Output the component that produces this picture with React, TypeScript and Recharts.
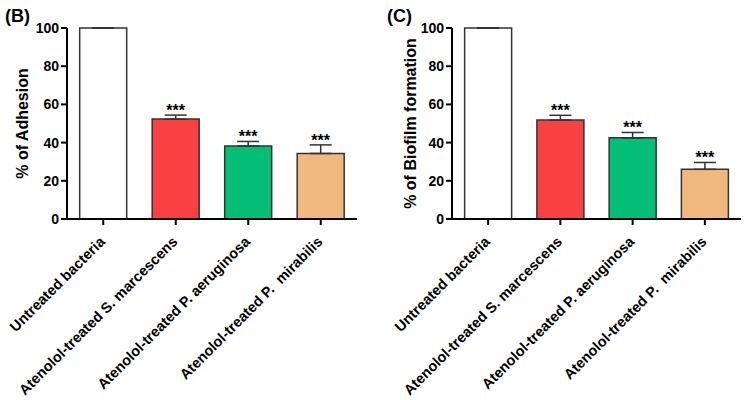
import React from "react";
import {
  BarChart,
  Bar,
  XAxis,
  YAxis,
  ErrorBar,
  Cell,
  LabelList,
} from "recharts";

const categories = [
  "Untreated bacteria",
  "Atenolol-treated S. marcescens",
  "Atenolol-treated P. aeruginosa",
  "Atenolol-treated P.  mirabilis",
];

const adhesion = [100, 52.3, 38.2, 34.3];
const adhesionErr = [0, 2.1, 2.4, 4.5];

const biofilm = [100, 51.8, 42.5, 26.0];
const biofilmErr = [0, 2.5, 2.8, 3.6];

const significance = ["", "***", "***", "***"];
const yTicks = [0, 20, 40, 60, 80, 100];

const BAR_COLORS = ["#FFFFFF", "#F94141", "#05BF78", "#F0B87E"];
const FONT = "Arial, 'Liberation Sans', sans-serif";

function buildRows(values: number[], errs: number[]) {
  return categories.map((name, i) => ({
    name,
    value: values[i],
    err: [0, errs[i]],
    stars: significance[i],
  }));
}

const AngledTick = (props: any) => {
  const { x, y, payload } = props;
  return (
    <g transform={`translate(${x - 1},${y + 12})`}>
      <text
        transform="rotate(-45)"
        textAnchor="end"
        dy="0.35em"
        fontFamily={FONT}
        fontWeight={700}
        fontSize={14.5}
        fill="#000"
        style={{ whiteSpace: "pre" }}
      >
        {payload.value}
      </text>
    </g>
  );
};

function starsLabel(values: number[], errs: number[]) {
  return (props: any) => {
    const { x, y, width, height, value, index } = props;
    if (!value) return null;
    const pxPerUnit = height / values[index];
    const top = y - errs[index] * pxPerUnit;
    return (
      <text
        x={x + width / 2}
        y={top + 1}
        textAnchor="middle"
        fontFamily={FONT}
        fontWeight={700}
        fontSize={16}
        fill="#000"
      >
        {value}
      </text>
    );
  };
}

interface PanelProps {
  letter: string;
  yLabel: string;
  values: number[];
  errs: number[];
  yAxisWidth: number;
  rightMargin: number;
  labelX: number;
}

function Panel({ letter, yLabel, values, errs, yAxisWidth, rightMargin, labelX }: PanelProps) {
  const data = buildRows(values, errs);
  return (
    <div style={{ position: "relative", width: 374, height: 400 }}>
      <BarChart
        width={374}
        height={400}
        data={data}
        margin={{ top: 28, right: rightMargin, bottom: 0, left: 0 }}
        barCategoryGap="17.5%"
      >
        <XAxis
          dataKey="name"
          interval={0}
          height={181}
          tick={<AngledTick />}
          axisLine={{ stroke: "#000", strokeWidth: 2 }}
          tickLine={{ stroke: "#000", strokeWidth: 2 }}
          tickSize={6}
        />
        <YAxis
          width={yAxisWidth}
          domain={[0, 100]}
          ticks={yTicks}
          interval={0}
          axisLine={{ stroke: "#000", strokeWidth: 2 }}
          tickLine={{ stroke: "#000", strokeWidth: 2 }}
          tickSize={6}
          tickMargin={2}
          tick={{ fill: "#000", fontFamily: FONT, fontWeight: 700, fontSize: 14 }}
          label={{
            content: () => (
              <text
                transform={`translate(${labelX},123.5) rotate(-90)`}
                textAnchor="middle"
                dominantBaseline="central"
                fontFamily={FONT}
                fontWeight={700}
                fontSize={16}
                fill="#000"
              >
                {yLabel}
              </text>
            ),
          }}
        />
        <Bar dataKey="value" stroke="#333" strokeWidth={1.5} isAnimationActive={false}>
          {data.map((d, i) => (
            <Cell key={d.name} fill={BAR_COLORS[i]} />
          ))}
          <ErrorBar dataKey="err" width={11} stroke="#333" strokeWidth={1.5} direction="y" />
          <LabelList dataKey="stars" content={starsLabel(values, errs)} />
        </Bar>
      </BarChart>
      <div
        style={{
          position: "absolute",
          left: letter === "(B)" ? 5 : 13,
          top: 6,
          fontFamily: FONT,
          fontWeight: 700,
          fontSize: 18,
          color: "#000",
        }}
      >
        {letter}
      </div>
    </div>
  );
}

export default function App() {
  return (
    <div
      style={{
        position: "absolute",
        left: 0,
        top: 0,
        width: 748,
        height: 400,
        background: "#fff",
        display: "flex",
      }}
    >
      <Panel
        letter="(B)"
        yLabel="% of Adhesion"
        values={adhesion}
        errs={adhesionErr}
        yAxisWidth={67}
        rightMargin={17}
        labelX={22.5}
      />
      <Panel
        letter="(C)"
        yLabel="% of Biofilm formation"
        values={biofilm}
        errs={biofilmErr}
        yAxisWidth={78}
        rightMargin={7}
        labelX={36}
      />
    </div>
  );
}
